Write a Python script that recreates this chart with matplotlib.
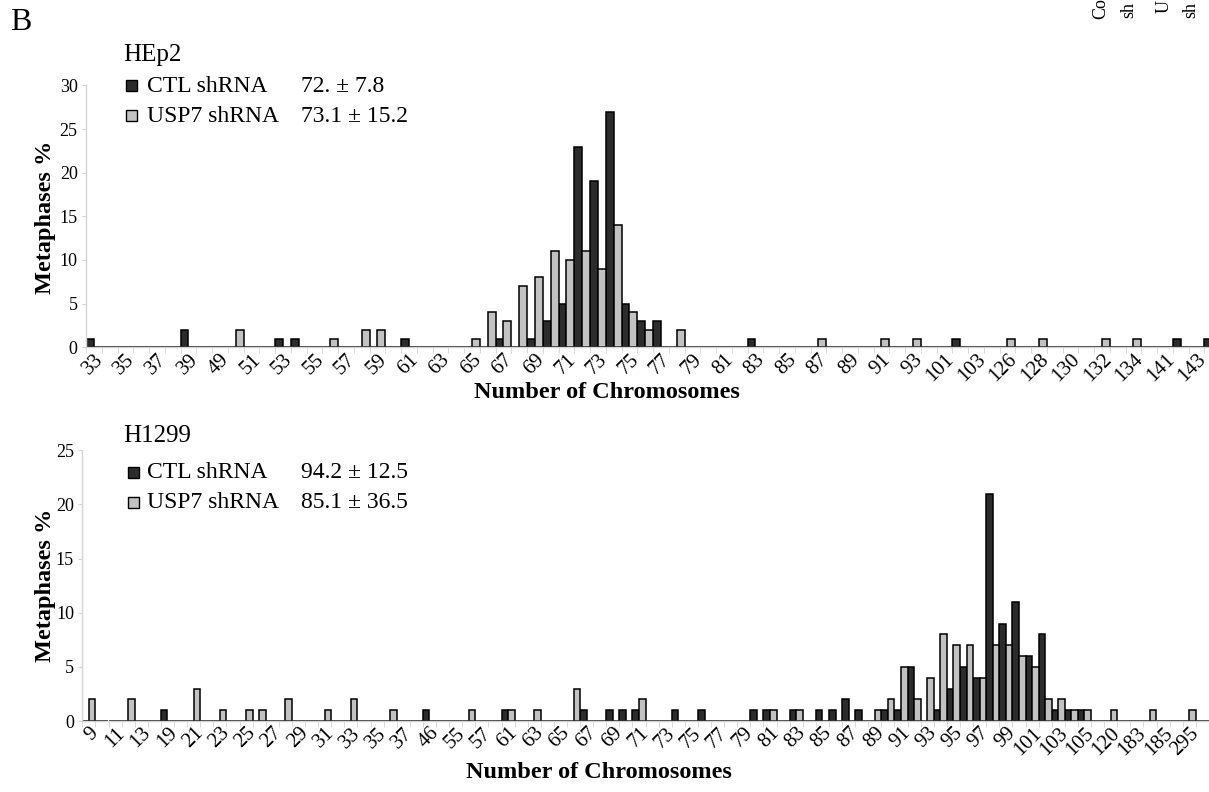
"""Chromosome number distribution, HEp2 and H1299, CTL vs USP7 shRNA."""
import matplotlib
matplotlib.use("Agg")
import matplotlib.pyplot as plt
from matplotlib.patches import Rectangle
import numpy as np

plt.rcParams["font.family"] = ["Liberation Serif", "DejaVu Serif"]

# HEp2: categories in axis order (only every other one is labelled)
hep2_chrom = [33, 34, 35, 36, 37, 38, 39, 48, 49, 50, 51, 52, 53, 54, 55, 56,
              57, 58, 59, 60, 61, 62, 63, 64, 65, 66, 67, 68, 69, 70, 71, 72,
              73, 74, 75, 76, 77, 78, 79, 80, 81, 82, 83, 84, 85, 86, 87, 88,
              89, 90, 91, 92, 93, 98, 101, 102, 103, 120, 126, 127, 128, 129,
              130, 131, 132, 133, 134, 138, 141, 142, 143, 146]
hep2_ctl = {33: 1, 39: 2, 53: 1, 54: 1, 61: 1, 67: 1, 69: 1, 70: 3, 71: 5,
            72: 23, 73: 19, 74: 27, 75: 5, 76: 3, 77: 3, 83: 1, 102: 1,
            142: 1, 146: 1}
hep2_usp7 = {50: 2, 56: 1, 58: 2, 59: 2, 65: 1, 66: 4, 67: 3, 68: 7, 69: 8,
             70: 11, 71: 10, 72: 11, 73: 9, 74: 14, 75: 4, 76: 2, 78: 2,
             87: 1, 91: 1, 93: 1, 126: 1, 128: 1, 132: 1, 134: 1}

# H1299
h1299_chrom = [9, 10, 11, 12, 13, 18, 19, 20, 21, 22, 23, 24, 25, 26, 27, 28,
               29, 30, 31, 32, 33, 34, 35, 36, 37, 45, 46, 50, 55, 56, 57, 60,
               61, 62, 63, 64, 65, 66, 67, 68, 69, 70, 71, 72, 73, 74, 75, 76,
               77, 78, 79, 80, 81, 82, 83, 84, 85, 86, 87, 88, 89, 90, 91, 92,
               93, 94, 95, 96, 97, 98, 99, 100, 101, 102, 103, 104, 105, 110,
               120, 150, 183, 184, 185, 200, 295, 300]
h1299_ctl = {19: 1, 46: 1, 61: 1, 67: 1, 69: 1, 70: 1, 71: 1, 74: 1, 76: 1,
             80: 1, 81: 1, 83: 1, 85: 1, 86: 1, 87: 2, 88: 1, 90: 1, 91: 1,
             92: 5, 94: 1, 95: 3, 96: 5, 97: 4, 98: 21, 99: 9, 100: 11,
             101: 6, 102: 8, 103: 1, 104: 1, 105: 1}
h1299_usp7 = {9: 2, 12: 2, 21: 3, 23: 1, 25: 1, 26: 1, 28: 2, 31: 1, 33: 2,
              36: 1, 56: 1, 61: 1, 63: 1, 66: 3, 71: 2, 81: 1, 83: 1, 89: 1,
              90: 2, 91: 5, 92: 2, 93: 4, 94: 8, 95: 7, 96: 7, 97: 4, 98: 7,
              99: 7, 100: 6, 101: 5, 102: 2, 103: 2, 104: 1, 105: 1, 120: 1,
              184: 1, 295: 1}

series_names = ["CTL shRNA", "USP7 shRNA"]
hep2_stats = ["72. \u00b1 7.8", "73.1 \u00b1 15.2"]
h1299_stats = ["94.2 \u00b1 12.5", "85.1 \u00b1 36.5"]

DARK = "#2c2c2c"
LIGHT = "#c2c2c2"
AXCOL = "#d4d4d4"
W, H = 1209, 792

fig = plt.figure(figsize=(W / 100, H / 100), dpi=100)


def px_axes(left, top, right, bottom):
    return fig.add_axes([left / W, 1 - bottom / H, (right - left) / W, (bottom - top) / H])


def ftext(x, y, s, **kw):
    fig.text(x / W, 1 - y / H, s, **kw)


def square(x, y, size, color):
    fig.add_artist(Rectangle((x / W, 1 - (y + size) / H), size / W, size / H,
                             transform=fig.transFigure, facecolor=color,
                             edgecolor="black", linewidth=1.0))


def draw_panel(ax, chrom, ctl, usp7, ymax):
    n = len(chrom)
    idx = np.arange(n)
    ctl_vals = [ctl.get(c, 0) for c in chrom]
    usp_vals = [usp7.get(c, 0) for c in chrom]
    ax.bar(idx + 0.25, ctl_vals, width=0.5, color=DARK, edgecolor="black", linewidth=1.1)
    ax.bar(idx + 0.75, usp_vals, width=0.5, color=LIGHT, edgecolor="black", linewidth=1.1)
    ax.set_xlim(0, n)
    ax.set_ylim(0, ymax)
    for side in ["top", "right"]:
        ax.spines[side].set_visible(False)
    for side in ["left", "bottom"]:
        ax.spines[side].set_color(AXCOL)
        ax.spines[side].set_linewidth(1.0)
    ax.set_yticks(range(0, ymax + 1, 5))
    ax.tick_params(axis="y", length=3, color=AXCOL, labelsize=13, pad=3)
    # labels on every other category, tick marks between categories
    ax.set_xticks(idx[::2] + 0.5, [str(c) for c in chrom[::2]])
    ax.set_xticks(np.arange(n + 1), minor=True)
    ax.tick_params(axis="x", which="major", length=0, labelsize=15, pad=2)
    ax.tick_params(axis="x", which="minor", length=4, color=AXCOL)
    for lbl in ax.get_xticklabels():
        lbl.set_rotation(45)
        lbl.set_ha("right")
        lbl.set_va("top")
        lbl.set_rotation_mode("anchor")


ax1 = px_axes(86, 85.4, 86 + 72 * 15.75, 347.3)
draw_panel(ax1, hep2_chrom, hep2_ctl, hep2_usp7, 30)
ax2 = px_axes(82.3, 450.3, 82.3 + 86 * 13.1, 721)
draw_panel(ax2, h1299_chrom, h1299_ctl, h1299_usp7, 25)

# axis titles
ftext(607, 393, "Number of Chromosomes", fontsize=17.5, fontweight="bold", ha="center", va="center")
ftext(599, 772, "Number of Chromosomes", fontsize=17.5, fontweight="bold", ha="center", va="center")
ftext(46, 217, "Metaphases %", fontsize=17.5, fontweight="bold", rotation=90, ha="center", va="center")
ftext(46, 585, "Metaphases %", fontsize=17.5, fontweight="bold", rotation=90, ha="center", va="center")

# panel letter and cell line legends
ftext(10, 22, "B", fontsize=23, ha="left", va="center")
for title, stats, ytitle, yrows, xsq in [("HEp2", hep2_stats, 55, [86, 116], 126),
                                          ("H1299", h1299_stats, 436, [473, 503], 128)]:
    ftext(123, ytitle, title, fontsize=18, ha="left", va="center")
    for name, st, yr, col in zip(series_names, stats, yrows, [DARK, LIGHT]):
        square(xsq, yr - 6, 11, col)
        ftext(147, yr, name, fontsize=17, ha="left", va="center")
        ftext(301, yr, st, fontsize=17, ha="left", va="center")

# visible ends of the neighbouring panel's column headers (cut by the crop)
for x, y, s in [(1101, 19, "Co"), (1129, 18, "sh"), (1164, 13, "U"), (1191, 18, "sh")]:
    ftext(x, y, s, fontsize=13, rotation=90, ha="center", va="bottom")

fig.savefig("out.png", dpi=100)
